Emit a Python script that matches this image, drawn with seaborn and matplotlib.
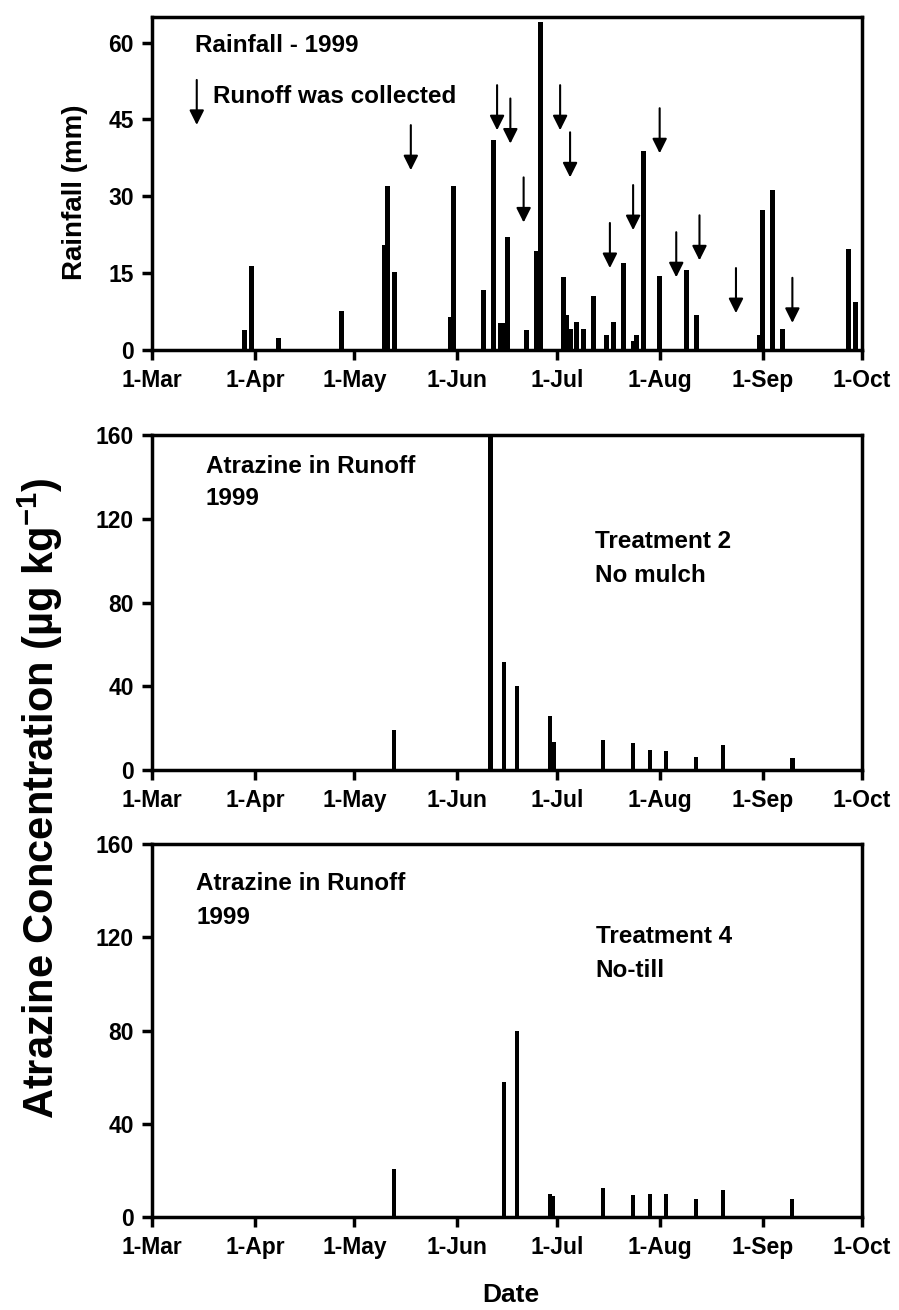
import matplotlib
matplotlib.use('Agg')
import matplotlib.pyplot as plt
import pandas as pd
import seaborn as sns

# rainfall 1999 (mm)
rain_dates = ['1999-03-29', '1999-03-31', '1999-04-08', '1999-04-27', '1999-05-10',
              '1999-05-11', '1999-05-13', '1999-05-30', '1999-05-31', '1999-06-09',
              '1999-06-12', '1999-06-14', '1999-06-15', '1999-06-16', '1999-06-22',
              '1999-06-25', '1999-06-26', '1999-07-03', '1999-07-04', '1999-07-05',
              '1999-07-07', '1999-07-09', '1999-07-12', '1999-07-16', '1999-07-18',
              '1999-07-21', '1999-07-24', '1999-07-25', '1999-07-27', '1999-08-01',
              '1999-08-09', '1999-08-12', '1999-08-31', '1999-09-01', '1999-09-04',
              '1999-09-07', '1999-09-27', '1999-09-29']
rain_mm = [4.0, 16.4, 2.4, 7.7, 20.5,
           32.0, 15.3, 6.5, 32.0, 11.7,
           41.0, 5.2, 5.3, 22.0, 4.0,
           19.3, 64.0, 14.3, 6.8, 4.2,
           5.4, 4.2, 10.6, 3.0, 5.5,
           17.0, 1.8, 2.9, 38.8, 14.4,
           15.7, 6.8, 2.9, 27.3, 31.2,
           4.2, 19.8, 9.4]

# runoff collection events (arrow tip height, mm)
runoff_dates = ['1999-05-18', '1999-06-13', '1999-06-17', '1999-06-21', '1999-07-02',
                '1999-07-05', '1999-07-17', '1999-07-24', '1999-08-01', '1999-08-06',
                '1999-08-13', '1999-08-24', '1999-09-10']
runoff_tip_mm = [35.1, 42.9, 40.3, 24.9, 42.9,
                 33.7, 16.0, 23.4, 38.4, 14.2,
                 17.5, 7.2, 5.3]

# atrazine concentration, treatment 2 (no mulch)
t2_dates = ['1999-05-13', '1999-06-11', '1999-06-15', '1999-06-19', '1999-06-29',
            '1999-06-30', '1999-07-15', '1999-07-24', '1999-07-29', '1999-08-03',
            '1999-08-12', '1999-08-20', '1999-09-10']
t2_conc = [19.3, 159.0, 51.5, 40.0, 25.6,
           13.3, 14.1, 13.0, 9.7, 9.1,
           6.3, 12.1, 5.8]

# atrazine concentration, treatment 4 (no-till)
t4_dates = ['1999-05-13', '1999-06-15', '1999-06-19', '1999-06-29', '1999-06-30',
            '1999-07-15', '1999-07-24', '1999-07-29', '1999-08-03', '1999-08-12',
            '1999-08-20', '1999-09-10']
t4_conc = [20.4, 58.1, 80.0, 10.0, 9.0,
           12.4, 9.6, 10.0, 10.0, 7.7,
           11.4, 7.6]

month_starts = ['1999-03-01', '1999-04-01', '1999-05-01', '1999-06-01',
                '1999-07-01', '1999-08-01', '1999-09-01', '1999-10-01']
month_labels = ['1-Mar', '1-Apr', '1-May', '1-Jun', '1-Jul', '1-Aug', '1-Sep', '1-Oct']

START = pd.Timestamp('1999-03-01')


def to_day(dates):
    return (pd.to_datetime(dates) - START).days.to_numpy()


sns.set_style('ticks')
plt.rcParams['font.family'] = ['Liberation Sans', 'DejaVu Sans']
plt.rcParams['font.weight'] = 'bold'
plt.rcParams['text.color'] = 'black'
plt.rcParams['axes.labelcolor'] = 'black'
plt.rcParams['mathtext.fontset'] = 'custom'
plt.rcParams['mathtext.rm'] = 'Liberation Sans:bold'
plt.rcParams['mathtext.default'] = 'rm'

TICK_FS = 16.5
TEXT_FS = 17.5

fig = plt.figure(figsize=(8.99, 13.10), dpi=100)
left, width = 0.1691, 0.7898
ax_rain = fig.add_axes([left, 0.7328, width, 0.2542])
ax_t2 = fig.add_axes([left, 0.4122, width, 0.2557])
ax_t4 = fig.add_axes([left, 0.0710, width, 0.2847])

sns.barplot(x=to_day(rain_dates), y=rain_mm, native_scale=True, color='black',
            width=1.5, linewidth=0, errorbar=None, ax=ax_rain)
sns.barplot(x=to_day(t2_dates), y=t2_conc, native_scale=True, color='black',
            width=1.3, linewidth=0, errorbar=None, ax=ax_t2)
sns.barplot(x=to_day(t4_dates), y=t4_conc, native_scale=True, color='black',
            width=1.2, linewidth=0, errorbar=None, ax=ax_t4)

for ax in (ax_rain, ax_t2, ax_t4):
    ax.set_xlim(0, 214)
    ax.set_xticks(to_day(month_starts))
    ax.set_xticklabels(month_labels)
    ax.set_xlabel('')
    ax.set_ylabel('')
    for side in ax.spines.values():
        side.set_visible(True)
        side.set_linewidth(2.5)
        side.set_color('black')
    ax.tick_params(direction='out', length=7, width=2.5, labelsize=TICK_FS,
                   colors='black', labelcolor='black')
    ax.tick_params(axis='x', pad=7)
    ax.tick_params(axis='y', pad=6)
    for lab in ax.get_xticklabels() + ax.get_yticklabels():
        lab.set_fontweight('bold')

ax_rain.set_ylim(0, 65)
ax_rain.set_yticks([0, 15, 30, 45, 60])
ax_t2.set_ylim(0, 160)
ax_t2.set_yticks([0, 40, 80, 120, 160])
ax_t4.set_ylim(0, 160)
ax_t4.set_yticks([0, 40, 80, 120, 160])

# runoff arrows
arrow_kw = dict(arrowstyle='-|>', color='black', lw=1.5, mutation_scale=22,
                shrinkA=0, shrinkB=0)
for day, tip in zip(to_day(runoff_dates), runoff_tip_mm):
    ax_rain.annotate('', xy=(day, tip), xytext=(day, tip + 8.8), arrowprops=arrow_kw)

ax_rain.annotate('', xy=(0.063, 0.676), xytext=(0.063, 0.811),
                 xycoords='axes fraction', arrowprops=arrow_kw)
ax_rain.text(0.061, 0.916, 'Rainfall - 1999', transform=ax_rain.transAxes,
             fontsize=TEXT_FS, fontweight='bold', va='center', ha='left')
ax_rain.text(0.086, 0.761, 'Runoff was collected', transform=ax_rain.transAxes,
             fontsize=TEXT_FS, fontweight='bold', va='center', ha='left')

ax_t2.text(0.076, 0.907, 'Atrazine in Runoff', transform=ax_t2.transAxes,
           fontsize=TEXT_FS, fontweight='bold', va='center', ha='left')
ax_t2.text(0.076, 0.812, '1999', transform=ax_t2.transAxes,
           fontsize=TEXT_FS, fontweight='bold', va='center', ha='left')
ax_t2.text(0.624, 0.681, 'Treatment 2', transform=ax_t2.transAxes,
           fontsize=TEXT_FS, fontweight='bold', va='center', ha='left')
ax_t2.text(0.624, 0.582, 'No mulch', transform=ax_t2.transAxes,
           fontsize=TEXT_FS, fontweight='bold', va='center', ha='left')

ax_t4.text(0.062, 0.895, 'Atrazine in Runoff', transform=ax_t4.transAxes,
           fontsize=TEXT_FS, fontweight='bold', va='center', ha='left')
ax_t4.text(0.062, 0.804, '1999', transform=ax_t4.transAxes,
           fontsize=TEXT_FS, fontweight='bold', va='center', ha='left')
ax_t4.text(0.625, 0.751, 'Treatment 4', transform=ax_t4.transAxes,
           fontsize=TEXT_FS, fontweight='bold', va='center', ha='left')
ax_t4.text(0.625, 0.662, 'No-till', transform=ax_t4.transAxes,
           fontsize=TEXT_FS, fontweight='bold', va='center', ha='left')

fig.text(75 / 899, 1 - 192 / 1310, 'Rainfall (mm)', rotation=90, fontsize=20,
         fontweight='bold', ha='center', va='center')
fig.text(40 / 899, 1 - 798 / 1310, r'Atrazine Concentration (µg kg$^{-1}$)',
         rotation=90, fontsize=30, fontweight='bold', ha='center', va='center')
fig.text(511 / 899, 1 - 1295 / 1310, 'Date', fontsize=19, fontweight='bold',
         ha='center', va='center')

fig.savefig('out.png', dpi=100)
